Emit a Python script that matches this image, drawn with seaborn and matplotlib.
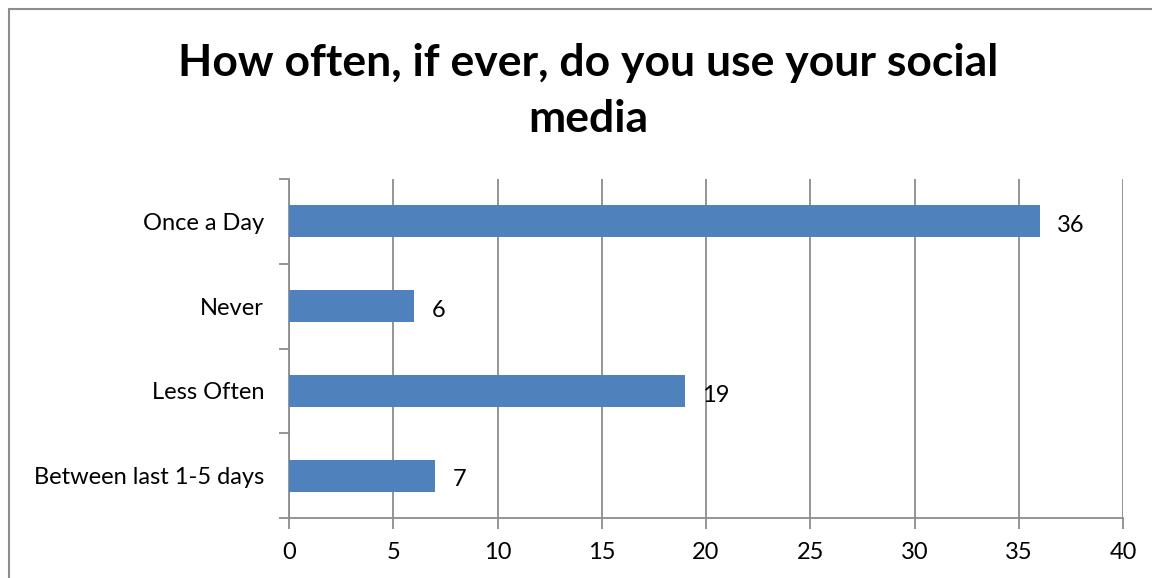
import matplotlib
matplotlib.use("Agg")
import matplotlib.pyplot as plt
import pandas as pd
import seaborn as sns
from matplotlib.patches import Rectangle

# -------------------- Data --------------------
categories = ["Once a Day", "Never", "Less Often", "Between last 1-5 days"]
counts = [36, 6, 19, 7]
x_ticks = [0, 5, 10, 15, 20, 25, 30, 35, 40]

df = pd.DataFrame({"answer": categories, "count": counts})

# -------------------- Plot --------------------
sns.set_style("white")
plt.rcParams["font.family"] = ["Lato", "DejaVu Sans"]
plt.rcParams["text.color"] = "black"
plt.rcParams["xtick.labelcolor"] = "black"
plt.rcParams["ytick.labelcolor"] = "black"

grey = "#8c8c8c"
bar_color = "#4f81bd"

fig = plt.figure(figsize=(11.52, 5.78), dpi=100)
ax = fig.add_axes([289 / 1152, 1 - 518 / 578, (1123 - 289) / 1152, (518 - 179) / 578])

sns.barplot(data=df, y="answer", x="count", orient="h", color=bar_color,
            width=0.38, saturation=1, linewidth=0, ax=ax, zorder=3)

ax.set_xlim(0, 40)
ax.set_ylim(3.5, -0.5)
ax.set_xticks(x_ticks)
# category boundaries carry the tick marks, labels sit in between
ax.set_yticks([-0.5, 0.5, 1.5, 2.5, 3.5], minor=False)
ax.set_yticklabels([])
ax.set_yticks(range(len(categories)), minor=True)
ax.set_yticklabels(categories, minor=True)
ax.tick_params(axis="y", which="minor", length=0, pad=18, labelsize=17)
ax.tick_params(axis="y", which="major", length=7, width=1.3, color=grey, direction="out", left=True)
ax.tick_params(axis="x", length=8, width=1.3, color=grey, direction="out", bottom=True,
               labelsize=17, pad=9)
ax.set_xlabel("")
ax.set_ylabel("")

ax.grid(axis="x", color=grey, linewidth=1.3, zorder=0)
ax.grid(axis="y", visible=False)
for s in ["top", "right"]:
    ax.spines[s].set_visible(False)
for s in ["left", "bottom"]:
    ax.spines[s].set_color(grey)
    ax.spines[s].set_linewidth(1.3)

for i, v in enumerate(counts):
    ax.annotate(str(v), xy=(v, i), xytext=(12.5, -3), textcoords="offset points",
                va="center", ha="left", fontsize=17)

fig.text(588 / 1152, 1 - 91 / 578, "How often, if ever, do you use your social\nmedia",
         ha="center", va="center", fontsize=32, fontweight="bold", linespacing=1.5)

# chart border
fig.patches.append(Rectangle((9 / 1152, -0.1), 1.2, 1 - 9 / 578 + 0.1, transform=fig.transFigure,
                             fill=False, edgecolor=grey, linewidth=1.5))

fig.savefig("out.png", dpi=100)
